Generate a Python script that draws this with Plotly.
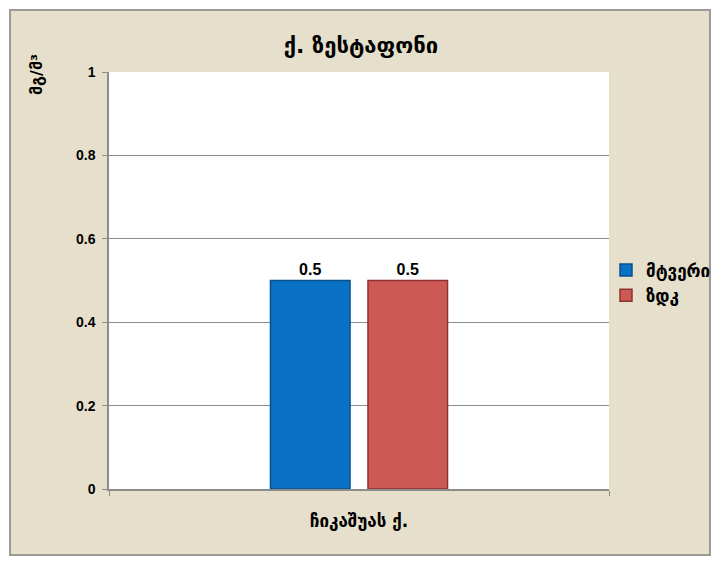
import plotly.graph_objects as go

categories = ["ჩიკაშუას ქ."]
series_names = ["მტვერი", "ზდკ"]
dust_values = [0.5]
mac_values = [0.5]
y_ticks = [0, 0.2, 0.4, 0.6, 0.8, 1]
y_tick_labels = ["0", "0.2", "0.4", "0.6", "0.8", "1"]

W, H = 719, 565
L, R, T, B = 109, 110, 72, 76
pw, ph = W - L - R, H - T - B

def px(x):
    return (x - L) / pw

def py(y):
    return (H - B - y) / ph

FONT = "Liberation Sans, DejaVu Sans, sans-serif"
GEO = "DejaVu Sans, sans-serif"

fig = go.Figure()
fig.add_trace(go.Bar(
    x=categories, y=dust_values, name=f"<b>{series_names[0]}</b>",
    marker=dict(color="#0a72c6", line=dict(color="#0b4f8a", width=1.5)),
    text=[f"<b>{v:g}</b>" for v in dust_values], textposition="outside",
    textfont=dict(family=FONT, size=16, color="black"), cliponaxis=False,
))
fig.add_trace(go.Bar(
    x=categories, y=mac_values, name=f"<b>{series_names[1]}</b>",
    marker=dict(color="#cd5955", line=dict(color="#8e3331", width=1.5)),
    text=[f"<b>{v:g}</b>" for v in mac_values], textposition="outside",
    textfont=dict(family=FONT, size=16, color="black"), cliponaxis=False,
))

shapes = [
    dict(type="rect", xref="paper", yref="paper", layer="below",
         x0=px(10), x1=px(710), y0=py(555), y1=py(10),
         fillcolor="#e6dfcb", line=dict(color="#9c9a94", width=2)),
    dict(type="rect", xref="paper", yref="paper", layer="below",
         x0=0, x1=1, y0=0, y1=1, fillcolor="white", line=dict(width=0)),
]

fig.update_layout(
    width=W, height=H,
    margin=dict(l=L, r=R, t=T, b=B, autoexpand=False),
    paper_bgcolor="white", plot_bgcolor="white",
    barmode="group", bargap=0.61, bargroupgap=0.184,
    shapes=shapes,
    title=dict(text="<b>ქ. ზესტაფონი</b>", x=px(360), xanchor="center",
               y=1 - 45 / H, yanchor="middle",
               font=dict(family=GEO, size=22, color="black")),
    legend=dict(x=px(606), xanchor="left", y=py(283), yanchor="middle",
                bgcolor="rgba(0,0,0,0)",
                font=dict(family=GEO, size=17, color="black"),
                itemwidth=30, traceorder="normal"),
    xaxis=dict(range=[-0.5, 0.5], showgrid=False, showline=True,
               linecolor="#8c8c8c", linewidth=1.5, ticks="outside",
               tickson="boundaries", ticklen=5, tickcolor="#8c8c8c",
               ticklabelstandoff=16,
               tickfont=dict(family=GEO, size=17, color="black"),
               tickprefix="<b>", ticksuffix="</b>", zeroline=False),
    yaxis=dict(range=[0, 1], tickvals=y_ticks, ticktext=[f"<b>{t}</b>" for t in y_tick_labels],
               showgrid=True, gridcolor="#8c8c8c", gridwidth=1,
               showline=True, linecolor="#8c8c8c", linewidth=1.5,
               ticks="outside", ticklen=5, tickcolor="#8c8c8c",
               ticklabelstandoff=4,
               tickfont=dict(family=FONT, size=14, color="black"),
               zeroline=False),
    annotations=[dict(text="<b>მგ/მ³</b>", xref="paper", yref="paper",
                      x=px(37), y=py(75), textangle=-90,
                      xanchor="center", yanchor="middle", showarrow=False,
                      font=dict(family=GEO, size=16, color="black"))],
)

fig.write_html("out.html")
